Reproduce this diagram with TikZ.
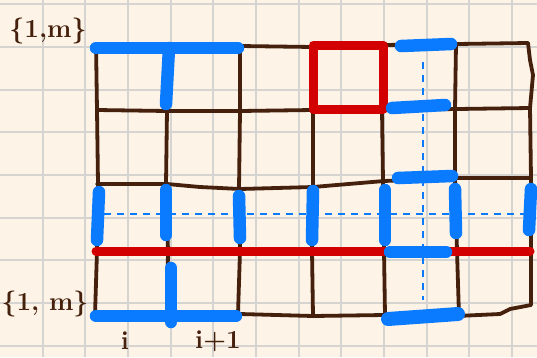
\documentclass[tikz,border=0pt]{standalone}
\definecolor{paper}{HTML}{FDF3E6}
\definecolor{gridc}{HTML}{D6D4D0}
\definecolor{brn}{HTML}{45200C}
\definecolor{blu}{HTML}{0A7BFF}
\definecolor{rd}{HTML}{D20000}
\begin{document}
\begin{tikzpicture}[x=1pt,y=-1pt,
  brownline/.style={draw=brn,line width=3.8pt,line cap=round,line join=round},
  bluebar/.style={draw=blu,line width=12.5pt,line cap=round},
  bluedash/.style={draw=blu,line width=2.2pt,dash pattern=on 7pt off 6pt},
  redbar/.style={draw=rd,line width=9pt,line cap=round,line join=round},
  lbl/.style={text=brn,font=\fontsize{26}{28}\selectfont\bfseries,inner sep=0pt}]
\fill[paper] (0,0) rectangle (537,357);
\useasboundingbox (0,0) rectangle (537,357);
\foreach \k in {1,...,12} \draw[gridc,line width=2pt] (\k*42.67,0) -- (\k*42.67,357);
\foreach \k in {0,...,8} \draw[gridc,line width=2pt] (0,4.3+\k*42.67) -- (537,4.3+\k*42.67);
% brown grid
\draw[brownline] (96,44) -- (240,46) -- (313,47) -- (384,45) -- (457,44) -- (528,43);
\draw[brownline] (97,110) -- (167,111) -- (240,111) -- (313,110) -- (384,110) -- (457,109) -- (530,108);
\draw[brownline] (97,184) -- (167,184) -- (200,187) -- (240,189) -- (313,187) -- (384,181) -- (457,178) -- (530,178);
\draw[brownline] (97,251) -- (530,251);
\draw[brownline] (95,315) -- (240,314) -- (313,316) -- (384,315) -- (457,316) -- (500,314) -- (510,309) -- (531,305);
\draw[brownline] (96,44) -- (97,110) -- (98,184) -- (97,251) -- (95,315);
\draw[brownline] (168,44) -- (167,110) -- (166,184) -- (168,251) -- (167,315);
\draw[brownline] (240,46) -- (240,111) -- (239,189) -- (240,251) -- (238,314);
\draw[brownline] (313,47) -- (313,110) -- (313,187) -- (312,251) -- (313,316);
\draw[brownline] (383,45) -- (382,110) -- (383,181) -- (384,251) -- (385,315);
\draw[brownline] (456,44) -- (455,109) -- (455,178) -- (457,251) -- (459,316);
\draw[brownline] (528,43) -- (530,60) -- (533,75) -- (530,108) -- (531,178) -- (531,251) -- (531,305);
% dashed blue
\draw[bluedash] (423,62) -- (423,300);
\draw[bluedash] (104,214) -- (530,214);
% red
\draw[redbar] (96,251) -- (530,251);
\draw[redbar] (313,45) rectangle (383,109);
% blue bars
\draw[bluebar] (96,48) -- (238,48);
\draw[bluebar] (169,48) -- (166,104);
\draw[bluebar] (96,316) -- (236,316);
\draw[bluebar] (171,268) -- (171,322);
\draw[bluebar] (401,46) -- (451,44);
\draw[bluebar] (392,108) -- (445,105);
\draw[bluebar] (398,178) -- (452,176);
\draw[bluebar] (390,252) -- (446,252);
\draw[bluebar,line width=14pt] (388,319) -- (458,314);
\draw[bluebar] (99,192) -- (97,240);
\draw[bluebar] (166,190) -- (166,235);
\draw[bluebar] (239,196) -- (240,238);
\draw[bluebar] (313,191) -- (312,240);
\draw[bluebar] (385,190) -- (385,240);
\draw[bluebar] (455,189) -- (456,233);
\draw[bluebar] (531,189) -- (529,230);
% labels
\node[lbl] (top) at (48,31) {\{1,m\}};
\node[lbl] (bot) at (45,304) {\{1, m\}};
\node[lbl] (li) at (125,341) {i};
\node[lbl] (lip) at (218,341) {i+1};
\end{tikzpicture}
\end{document}
